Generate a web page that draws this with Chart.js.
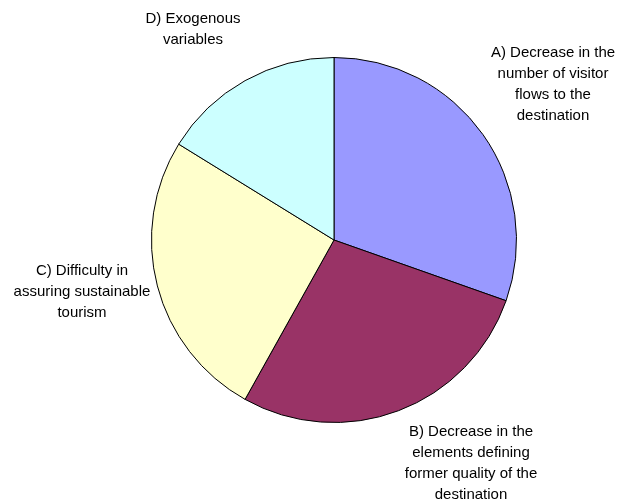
<!DOCTYPE html>
<html>
<head>
<meta charset="utf-8">
<script src="https://cdn.jsdelivr.net/npm/chart.js@4/dist/chart.umd.min.js"></script>
<style>
  html, body { margin: 0; padding: 0; background: #fff; }
  #wrap { width: 618px; height: 501px; }
</style>
</head>
<body>
<div id="wrap"><canvas id="myChart" width="618" height="501"></canvas></div>
<script>
// data (shares in %)
const categories = [
  "A) Decrease in the number of visitor flows to the destination",
  "B) Decrease in the elements defining former quality of the destination",
  "C) Difficulty in assuring sustainable tourism",
  "D) Exogenous variables"
];
const shares = [30.4, 27.7, 25.7, 16.2];
const sliceColors = ["#9999FF", "#993366", "#FFFFCC", "#CCFFFF"];

// text of the labels, split the way the picture wraps them
const labelLines = [
  ["A) Decrease in the", "number of visitor", "flows to the", "destination"],
  ["B) Decrease in the", "elements defining", "former quality of the", "destination"],
  ["C) Difficulty in", "assuring sustainable", "tourism"],
  ["D) Exogenous", "variables"]
];
// where each label block sits (centre x, middle of first line y)
const labelPos = [
  { x: 553, y: 53 },
  { x: 471, y: 432 },
  { x: 82, y: 271 },
  { x: 193, y: 19 }
];

const sliceLabels = {
  id: "sliceLabels",
  afterDraw(chart) {
    const ctx = chart.ctx;
    ctx.save();
    ctx.fillStyle = "#000";
    ctx.font = "15px 'Liberation Sans', Arial, sans-serif";
    ctx.textAlign = "center";
    ctx.textBaseline = "middle";
    labelLines.forEach((lines, i) => {
      const p = labelPos[i];
      lines.forEach((t, j) => {
        ctx.fillText(t, p.x, p.y + j * 20.8);
      });
    });
    ctx.restore();
  }
};

const ctx = document.getElementById("myChart").getContext("2d");
new Chart(ctx, {
  type: "pie",
  data: {
    labels: categories,
    datasets: [{
      data: shares,
      backgroundColor: sliceColors,
      borderColor: "#000",
      borderWidth: 1
    }]
  },
  options: {
    responsive: false,
    animation: false,
    layout: { padding: { left: 151, right: 101, top: 57, bottom: 78 } },
    plugins: {
      legend: { display: false },
      tooltip: { enabled: false }
    }
  },
  plugins: [sliceLabels]
});
</script>
</body>
</html>
